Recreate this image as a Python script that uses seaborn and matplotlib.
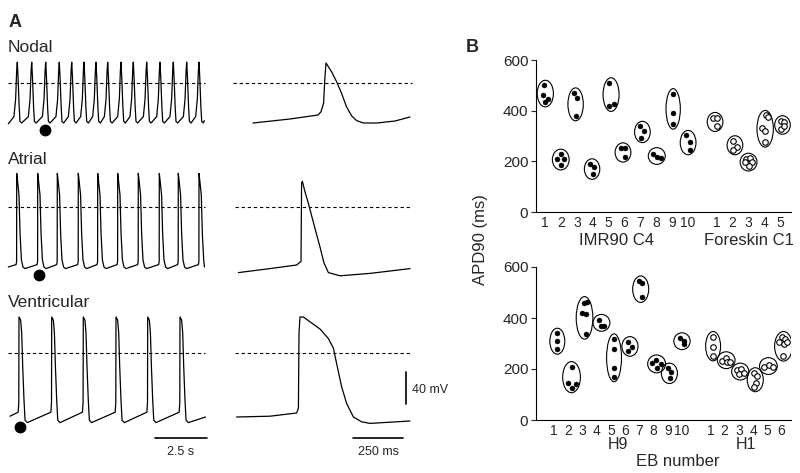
import numpy as np
import pandas as pd
import matplotlib
matplotlib.use("Agg")
import matplotlib.pyplot as plt
from matplotlib.patches import Ellipse
import matplotlib.transforms as mtransforms
import seaborn as sns

sns.set_theme(style="ticks")
plt.rcParams["font.family"] = ["Liberation Sans", "DejaVu Sans"]

# ---------------- panel A data (time in ms, voltage in mV) ----------------
nodal_peaks = [446, 1138, 1810, 2462, 3058, 3648, 4224, 4786, 5424, 6014, 6658, 7296, 7934, 8578, 9168]
atrial_peaks = [418, 1426, 2366, 3374, 4306, 5266, 6254, 7262, 8174, 9168]
ventricular_peaks = [528, 2098, 3614, 5184, 6706, 8256]

# one beat, ms relative to peak
nodal_beat_t = [-160, -80, -30, 0, 40, 90, 130, 210]
nodal_beat_v = [-42, -20, 15, 26, 5, -30, -48, -50]
atrial_beat_t = [-30, -5, 0, 30, 110, 160, 225, 300, 400]
atrial_beat_v = [-72, -68, 42, 35, 15, -33, -66, -75, -77]
ventricular_beat_t = [-40, -10, 0, 80, 130, 178, 240, 290, 400]
ventricular_beat_v = [-74, -62, 45, 41, 25, -17, -59, -84, -87]

nodal_ends = [(16, -51), (9420, -47)]
atrial_ends = [(16, -75), (9430, -75)]
ventricular_ends = [(96, -79), (9480, -80)]

# marked beat (black dot)
marked_t = [1776, 1488, 576]
marked_v = [-59, -85, -92]

# single expanded action potentials
nodal_single_t = [115, 300, 440, 455, 468, 474, 480, 508, 533, 558, 583, 608, 633, 667, 735, 825, 900]
nodal_single_v = [-50, -45, -40, -36, -25, 5, 25, 14, 1.6, -13, -30, -41, -47, -50, -50, -47.5, -42.5]
atrial_single_t = [42, 200, 333, 355, 358, 362, 375, 392, 425, 450, 470, 492, 550, 700, 900]
atrial_single_v = [-82, -77, -72.5, -68, 30, 32, 19, 4.5, -27, -50, -70, -82, -86, -83, -77]
ventricular_single_t = [33, 200, 333, 342, 345, 350, 367, 400, 450, 492, 517, 533, 558, 583, 617, 658, 700, 900]
ventricular_single_v = [-80, -79, -75, -69, 25, 45, 45, 39, 30, 18, 6, -13, -42, -63, -80, -86, -88, -85]

# ---------------- panel B data (APD90, ms) ----------------
imr90_vals = [[500, 460, 435, 447], [210, 228, 210, 186], [470, 450, 380], [190, 179, 149],
              [510, 417, 426], [253, 251, 217], [338, 320, 294], [227, 217, 215],
              [467, 391, 347], [302, 278, 246]]
imr90_dx = [[-0.04, -0.15, 0, 0.19], [-0.23, 0, 0.21, -0.02], [-0.17, 0.02, -0.06], [-0.14, 0.06, 0.02],
            [0, 0.04, 0.31], [-0.23, 0.02, 0.04], [0, 0.25, 0.02], [-0.21, 0.02, 0.27],
            [0.06, 0.06, 0.06], [-0.13, 0.13, 0.13]]
foreskin_vals = [[373, 373, 338], [281, 256, 246], [210, 212, 197, 182, 198],
                 [381, 375, 331, 318, 276], [360, 355, 327, 338]]
foreskin_dx = [[-0.23, 0.02, 0], [0.02, 0.27, 0.02], [-0.19, 0.11, 0.23, 0, -0.23],
               [0.1, 0.23, -0.14, 0.02, 0.06], [0.02, 0.25, 0.02, 0.25]]
h9_vals = [[340, 310, 278], [209, 144, 127, 140], [457, 464, 418, 414, 337], [392, 370, 370],
           [318, 280, 203, 170], [307, 287, 270], [545, 536, 481], [225, 235, 205, 218],
           [203, 189, 163], [320, 310, 298]]
h9_dx = [[0.23, 0.23, 0.23], [0.26, -0.05, 0.26, 0.51], [0.11, 0.32, -0.03, 0.25, 0.23], [0.14, 0.32, 0.53],
         [0.22, 0.22, 0.22, 0.22], [0.22, 0.46, 0.22], [-0.02, 0.21, 0.19], [-0.08, 0.18, 0.23, 0.51],
         [0, 0.23, 0.15], [-0.14, 0.14, 0.14]]
h1_vals = [[327, 285, 252], [232, 242, 229, 227], [196, 200, 180, 186], [185, 172, 146, 131],
           [209, 216, 207], [327, 317, 305, 298, 307, 251]]
h1_dx = [[0.19, 0.19, 0.19], [-0.17, 0.11, 0.2, 0.39], [-0.13, 0.17, -0.02, 0.33], [0.04, 0.27, 0.2, 0.04],
         [-0.21, 0.09, 0.37], [0.03, 0.26, -0.14, 0.19, 0.42, 0.14]]

top_pos = [1, 2, 3, 4, 5, 6, 7, 8, 9, 10, 11.8, 12.8, 13.8, 14.8, 15.8]
top_labels = [str(i) for i in range(1, 11)] + [str(i) for i in range(1, 6)]
bot_pos = [1, 2, 3, 4, 5, 6, 7, 8, 9, 10, 12, 13, 14, 15, 16, 17]
bot_labels = [str(i) for i in range(1, 11)] + [str(i) for i in range(1, 7)]


def build_trace(ends, peaks, beat_t, beat_v):
    t = [ends[0][0]]
    v = [ends[0][1]]
    for p in peaks:
        for dt, vv in zip(beat_t, beat_v):
            if ends[0][0] < p + dt < ends[1][0]:
                t.append(p + dt)
                v.append(vv)
    t.append(ends[1][0])
    v.append(ends[1][1])
    return t, v


W, H = 800, 473
fig = plt.figure(figsize=(8, 4.73), dpi=100)


def px_axes(x0, y0, x1, y1):
    return fig.add_axes([x0 / W, 1 - y1 / H, (x1 - x0) / W, (y1 - y0) / H])


def ftext(x, y, s, **kw):
    fig.text(x / W, 1 - y / H, s, **kw)


# ---------------- panel A ----------------
rows = [(83, 50, 140), (207, 160, 290), (353, 300, 460)]
left_traces = [build_trace(nodal_ends, nodal_peaks, nodal_beat_t, nodal_beat_v),
               build_trace(atrial_ends, atrial_peaks, atrial_beat_t, atrial_beat_v),
               build_trace(ventricular_ends, ventricular_peaks, ventricular_beat_t, ventricular_beat_v)]
right_traces = [(nodal_single_t, nodal_single_v), (atrial_single_t, atrial_single_v),
                (ventricular_single_t, ventricular_single_v)]
right_dash = [(15, 910), (25, 910), (25, 910)]

for i, (y0, ytop, ybot) in enumerate(rows):
    ylim = ((y0 - ybot) * 1.25, (y0 - ytop) * 1.25)
    axl = px_axes(0, ytop, 215, ybot)
    axl.set_xlim(-384, 9936)
    axl.set_ylim(*ylim)
    axl.axis("off")
    tl, vl = left_traces[i]
    sns.lineplot(x=tl, y=vl, ax=axl, sort=False, estimator=None, color="black", lw=0.9)
    axl.hlines(0, 0, 9456, colors="black", lw=0.8, linestyles=(0, (3, 2.5)))
    axl.plot(marked_t[i], marked_v[i], "o", color="black", ms=7.5)

    axr = px_axes(225, ytop, 420, ybot)
    axr.set_xlim(-25, 950)
    axr.set_ylim(*ylim)
    axr.axis("off")
    tr, vr = right_traces[i]
    sns.lineplot(x=tr, y=vr, ax=axr, sort=False, estimator=None, color="black", lw=0.9)
    axr.hlines(0, right_dash[i][0], right_dash[i][1], colors="black", lw=0.8, linestyles=(0, (3, 2.5)))

    if i == 2:
        axl.plot([7056, 9556], [-106, -106], color="black", lw=1.2, clip_on=False)
        axl.text(8306, -124, "2.5 s", ha="center", va="center", fontsize=9)
        axr.plot([615, 865], [-106, -106], color="black", lw=1.2, clip_on=False)
        axr.text(740, -124, "250 ms", ha="center", va="center", fontsize=9)
        axr.plot([880, 880], [-64, -24], color="black", lw=1.2, clip_on=False)
        axr.text(910, -46, "40 mV", ha="left", va="center", fontsize=9)

ftext(9, 27, "A", fontsize=13, fontweight="bold", ha="left", va="baseline")
ftext(8, 52, "Nodal", fontsize=12.5, ha="left", va="baseline")
ftext(8, 164, "Atrial", fontsize=12.5, ha="left", va="baseline")
ftext(8, 307, "Ventricular", fontsize=12.5, ha="left", va="baseline")

# ---------------- panel B ----------------


def draw_groups(ax, positions, vals, dxs, filled, base_w):
    rows_ = []
    for p, vv, dd in zip(positions, vals, dxs):
        for v, d in zip(vv, dd):
            rows_.append({"x": p + d, "y": v})
        lo, hi = min(dd), max(dd)
        cx = p + (lo + hi) / 2
        cy = (min(vv) + max(vv)) / 2
        h = max(max(vv) - min(vv) + 40, 66)
        w = base_w + 0.35 * (hi - lo)
        ax.add_patch(Ellipse((cx, cy), w, h, fill=False, ec="black", lw=0.8))
    df = pd.DataFrame(rows_)
    if filled:
        sns.scatterplot(data=df, x="x", y="y", ax=ax, color="black", s=13, edgecolor="black", linewidth=0.3, zorder=3)
    else:
        sns.scatterplot(data=df, x="x", y="y", ax=ax, facecolor="white", s=16, edgecolor="black", linewidth=0.8, zorder=3)


axt = px_axes(536, 60, 791, 212)
axb = px_axes(536, 267, 791, 420)

draw_groups(axt, top_pos[:10], imr90_vals, imr90_dx, True, 0.9)
draw_groups(axt, top_pos[10:], foreskin_vals, foreskin_dx, False, 0.9)
draw_groups(axb, bot_pos[:10], h9_vals, h9_dx, True, 1.05)
draw_groups(axb, bot_pos[10:], h1_vals, h1_dx, False, 1.05)

for ax, pos, labs, xl in [(axt, top_pos, top_labels, (0.434, 16.47)), (axb, bot_pos, bot_labels, (-0.27, 17.67))]:
    ax.set_xlim(*xl)
    ax.set_ylim(0, 600)
    ax.set_yticks([0, 200, 400, 600])
    ax.set_xticks(pos)
    ax.set_xticklabels(labs)
    ax.tick_params(axis="x", length=0, pad=3, labelsize=10)
    ax.tick_params(axis="y", length=3.5, width=0.8, pad=2, labelsize=11)
    ax.set_xlabel("")
    ax.set_ylabel("")
    for s in ["top", "right"]:
        ax.spines[s].set_visible(False)
    for s in ["left", "bottom"]:
        ax.spines[s].set_linewidth(0.8)
        ax.spines[s].set_color("black")

trt = mtransforms.blended_transform_factory(axt.transData, axt.transAxes)
axt.text(np.mean(top_pos[:10]), -0.19, "IMR90 C4", transform=trt, ha="center", va="center", fontsize=12)
axt.text(np.mean(top_pos[10:]), -0.19, "Foreskin C1", transform=trt, ha="center", va="center", fontsize=12)
trb = mtransforms.blended_transform_factory(axb.transData, axb.transAxes)
axb.text(np.mean(bot_pos[:10]), -0.16, "H9", transform=trb, ha="center", va="center", fontsize=11.5)
axb.text(np.mean(bot_pos[10:]), -0.16, "H1", transform=trb, ha="center", va="center", fontsize=11.5)

ftext(678, 461, "EB number", fontsize=12, ha="center", va="center")
ftext(481, 240, "APD90 (ms)", fontsize=12, ha="center", va="center", rotation=90)
ftext(466, 52, "B", fontsize=13, fontweight="bold", ha="left", va="baseline")

fig.savefig("out.png", dpi=100)
